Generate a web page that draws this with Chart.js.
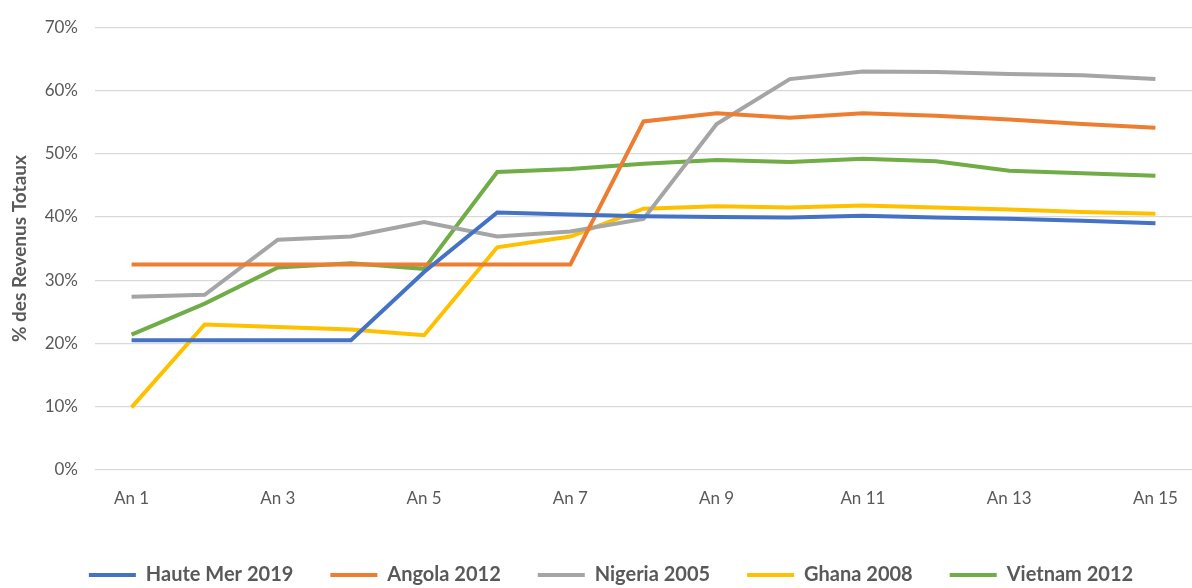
<!DOCTYPE html>
<html><head><meta charset="utf-8">
<script src="https://cdn.jsdelivr.net/npm/chart.js@4"></script>
<style>html,body{margin:0;padding:0;background:#fff;}#wrap{width:1192px;height:588px;}</style>
</head><body><div id="wrap"><canvas id="c"></canvas></div>
<script>
const categories = ["An 1","An 2","An 3","An 4","An 5","An 6","An 7","An 8","An 9","An 10","An 11","An 12","An 13","An 14","An 15"];
const seriesNames = ["Haute Mer 2019","Angola 2012","Nigeria 2005","Ghana 2008","Vietnam 2012"];
const hauteMer = [20.5,20.5,20.5,20.5,31.3,40.7,40.4,40.1,40.0,39.9,40.2,39.9,39.7,39.4,39.0];
const angola   = [32.5,32.5,32.5,32.5,32.5,32.5,32.5,55.1,56.4,55.7,56.4,56.0,55.4,54.7,54.1];
const nigeria  = [27.4,27.7,36.4,36.9,39.2,36.9,37.7,39.7,54.7,61.8,63.0,62.9,62.6,62.4,61.8];
const ghana    = [9.9,23.0,22.6,22.2,21.3,35.2,36.9,41.3,41.7,41.5,41.8,41.5,41.2,40.8,40.5];
const vietnam  = [21.4,26.3,32.0,32.7,31.8,47.1,47.6,48.4,49.0,48.7,49.2,48.8,47.3,46.9,46.5];
const yTicks = [0,10,20,30,40,50,60,70];
const colors = ["#4472C4","#ED7D31","#A5A5A5","#FFC000","#70AD47"];
const allSeries = [hauteMer, angola, nigeria, ghana, vietnam];

const font = "Lato, 'Open Sans', sans-serif";
const legendShift = {
  id: 'legendShift',
  afterLayout(chart) {
    if (chart.legend) { chart.legend.left += 15; chart.legend.right += 15; }
  }
};
new Chart(document.getElementById('c'), {
  type: 'line',
  data: {
    labels: categories,
    datasets: allSeries.map((d,i)=>({
      label: seriesNames[i], data: d, borderColor: colors[i], backgroundColor: colors[i],
      borderWidth: 4, pointRadius: 0, tension: 0, fill: false
    }))
  },
  plugins: [legendShift],
  options: {
    responsive: true, maintainAspectRatio: false, animation: false,
    layout: { padding: { top: 21, right: 0, left: 0, bottom: 0 } },
    plugins: {
      tooltip: { enabled: false },
      legend: {
        position: 'bottom',
        maxHeight: 60,
        labels: {
          color: '#595959',
          font: { family: font, size: 20, weight: 'bold' },
          boxWidth: 47, boxHeight: 4, padding: 37,
          generateLabels(chart) {
            const items = Chart.defaults.plugins.legend.labels.generateLabels(chart);
            items.forEach(it => { it.lineWidth = 0; it.fillStyle = it.strokeStyle; });
            return items;
          }
        }
      }
    },
    scales: {
      x: {
        type: 'category', offset: true,
        grid: { display: false }, border: { display: false },
        ticks: { color: '#595959', font: { family: font, size: 17 }, autoSkip: false, maxRotation: 0,
          padding: 10,
          callback: function(v, i) { return i % 2 === 0 ? categories[i] : ''; } },
        afterFit(s) { s.height = 58; }
      },
      y: {
        min: 0, max: 70,
        afterBuildTicks(s) { s.ticks = yTicks.map(v => ({ value: v })); },
        grid: { color: '#D9D9D9', lineWidth: 1.3, drawTicks: false }, border: { display: false },
        ticks: { color: '#595959', font: { family: font, size: 17 }, padding: 17,
          callback: v => v + '%' },
        title: { display: true, text: '% des Revenus Totaux', color: '#595959',
          font: { family: font, size: 19, weight: 'bold' }, padding: { top: 8, bottom: 4 } },
        afterFit(s) { s.width = 95; }
      }
    }
  }
});
</script></body></html>
